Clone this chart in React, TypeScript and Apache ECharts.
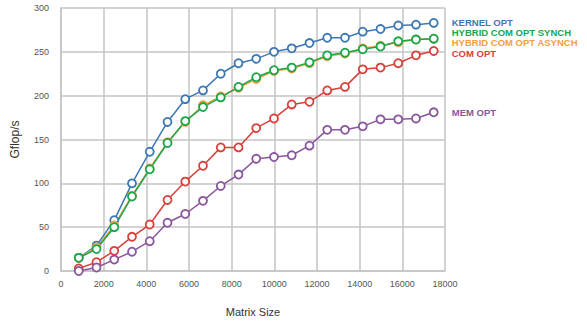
import React, { useEffect, useRef } from "react";
import * as echarts from "echarts";

const matrixSizes = [832, 1664, 2496, 3328, 4160, 4992, 5824, 6656, 7488, 8320, 9152, 9984, 10816, 11648, 12480, 13312, 14144, 14976, 15808, 16640, 17472];
const kernelOpt = [15, 29, 58, 100, 136, 170, 196, 206, 225, 237, 242, 250, 254, 260, 266, 266, 273, 276, 280, 281, 283];
const hybridSynch = [15, 25, 50, 85, 116, 146, 171, 187, 198, 210, 221, 229, 232, 238, 246, 249, 253, 256, 262, 264, 265];
const hybridAsynch = [15, 27, 52, 86, 117, 147, 170, 189, 199, 209, 219, 228, 231, 237, 245, 248, 254, 257, 261, 264, 265];
const comOpt = [3, 10, 23, 39, 53, 81, 102, 120, 141, 141, 163, 174, 190, 193, 206, 210, 230, 232, 237, 246, 251];
const memOpt = [0, 4, 13, 22, 34, 55, 65, 80, 97, 110, 128, 130, 132, 143, 161, 161, 165, 173, 173, 174, 181];
const xTicks = { min: 0, max: 18000, interval: 2000 };
const yTicks = { min: 0, max: 300, interval: 50 };

const seriesDefs = [
  { name: "KERNEL OPT", data: kernelOpt, color: "#3c78b4", dy: -0.5 },
  { name: "HYBRID COM OPT ASYNCH", data: hybridAsynch, color: "#f5a03c", dy: 4 },
  { name: "HYBRID COM OPT SYNCH", data: hybridSynch, color: "#1aa64a", dy: -6 },
  { name: "COM OPT", data: comOpt, color: "#d9403a", dy: 3 },
  { name: "MEM OPT", data: memOpt, color: "#8a569e", dy: 0 },
];

export default function App() {
  const ref = useRef<HTMLDivElement>(null);
  useEffect(() => {
    if (!ref.current) return;
    const chart = echarts.init(ref.current, undefined, { renderer: "svg" });
    const gridColor = "#c4c4c4";
    chart.setOption({
      animation: false,
      backgroundColor: "#ffffff",
      grid: { left: 61, top: 8, width: 384, height: 263 },
      xAxis: {
        type: "value",
        min: xTicks.min,
        max: xTicks.max,
        interval: xTicks.interval,
        name: "Matrix Size",
        nameLocation: "middle",
        nameGap: 35,
        nameTextStyle: { fontSize: 11, color: "#333", fontFamily: "Liberation Sans" },
        axisLine: { show: true, lineStyle: { color: gridColor, width: 1.5 } },
        axisTick: { show: false },
        axisLabel: {
          fontSize: 9,
          color: "#555",
          margin: 8,
          fontFamily: "Liberation Sans",
          formatter: (v: number) => String(v),
        },
        splitLine: { show: true, lineStyle: { color: gridColor, width: 1.5 } },
      },
      yAxis: {
        type: "value",
        min: yTicks.min,
        max: yTicks.max,
        interval: yTicks.interval,
        name: "Gflop/s",
        nameLocation: "middle",
        nameGap: 40,
        nameTextStyle: { fontSize: 12, color: "#333", fontFamily: "Liberation Sans" },
        axisLine: { show: true, lineStyle: { color: gridColor, width: 1.5 } },
        axisTick: { show: false },
        axisLabel: {
          fontSize: 9,
          color: "#555",
          margin: 12,
          fontFamily: "Liberation Sans",
          formatter: (v: number) => String(v),
        },
        splitLine: { show: true, lineStyle: { color: gridColor, width: 1.5 } },
      },
      series: seriesDefs.map((s) => ({
        name: s.name,
        type: "line",
        data: matrixSizes.map((x, i) => [x, s.data[i]]),
        symbol: "circle",
        symbolSize: 8,
        color: s.color,
        lineStyle: { color: s.color, width: 1.5 },
        itemStyle: { color: "#ffffff", borderColor: s.color, borderWidth: 1.8 },
        endLabel: {
          show: true,
          formatter: "{a}",
          color: s.color,
          fontWeight: "bold",
          fontSize: 9.5,
          lineHeight: 8,
          fontFamily: "Liberation Sans",
          offset: [10, s.dy],
        },
      })),
    });
    return () => chart.dispose();
  }, []);
  return (
    <div
      ref={ref}
      style={{ position: "absolute", left: 0, top: 0, width: 587, height: 324 }}
    />
  );
}
